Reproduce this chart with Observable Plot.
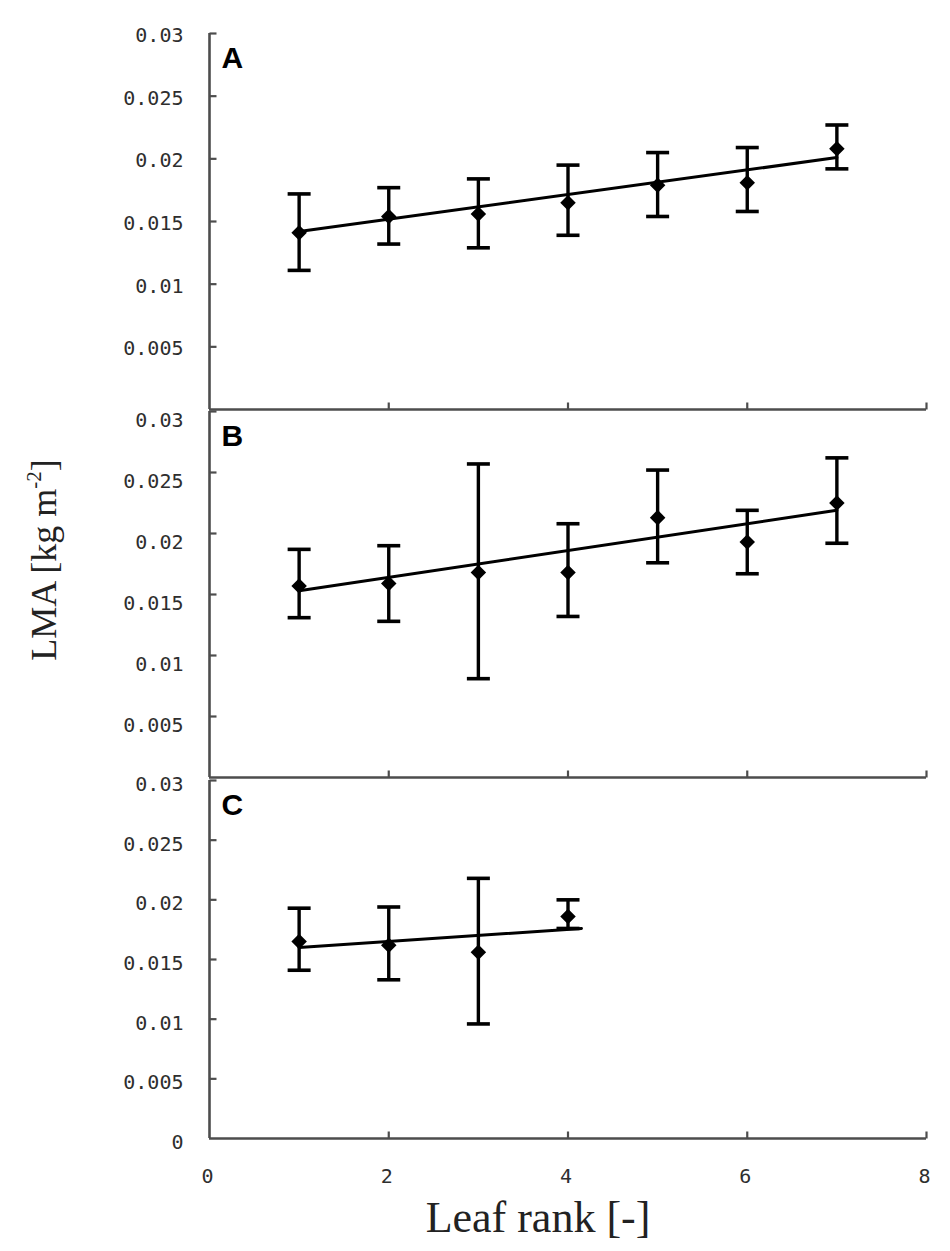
<!DOCTYPE html>
<html>
<head>
<meta charset="utf-8">
<script src="https://cdn.jsdelivr.net/npm/d3@7"></script>
<script src="https://cdn.jsdelivr.net/npm/@observablehq/plot@0.6"></script>
<style>
  body { margin: 0; background: #fff; }
  #fig { position: relative; width: 950px; height: 1251px; background: #fff; overflow: hidden; }
  #fig svg { position: absolute; left: 0; }
  .ytitle { position: absolute; left: 44px; top: 560px; transform: translate(-50%, -50%) rotate(-90deg);
            font-family: "Liberation Serif", "DejaVu Serif", serif; font-size: 36px; color: #222; white-space: nowrap; }
  .ytitle sup { font-size: 21px; position: relative; top: -2px; }
  .xtitle { position: absolute; left: 538px; top: 1217px; transform: translate(-50%, -50%);
            font-family: "Liberation Serif", "DejaVu Serif", serif; font-size: 44px; color: #222; white-space: nowrap; }
</style>
</head>
<body>
<div id="fig"></div>
<script>
// ---- data ----
const leafRank = [1, 2, 3, 4, 5, 6, 7];

const lmaA  = [0.0141, 0.0154, 0.0156, 0.0165, 0.0179, 0.0181, 0.0208];
const highA = [0.0172, 0.0177, 0.0184, 0.0195, 0.0205, 0.0209, 0.0227];
const lowA  = [0.0111, 0.0132, 0.0129, 0.0139, 0.0154, 0.0158, 0.0192];
const trendRankA = [1, 7];
const trendLmaA  = [0.0142, 0.0201];

const lmaB  = [0.0157, 0.0159, 0.0168, 0.0168, 0.0213, 0.0193, 0.0225];
const highB = [0.0187, 0.0190, 0.0257, 0.0208, 0.0252, 0.0219, 0.0262];
const lowB  = [0.0131, 0.0128, 0.0081, 0.0132, 0.0176, 0.0167, 0.0192];
const trendRankB = [1, 7];
const trendLmaB  = [0.0153, 0.0219];

const lmaC  = [0.0165, 0.0162, 0.0156, 0.0186];
const highC = [0.0193, 0.0194, 0.0218, 0.0200];
const lowC  = [0.0141, 0.0133, 0.0096, 0.0176];
const trendRankC = [1, 4.15];
const trendLmaC  = [0.0160, 0.0176];

const panelLetters = ["A", "B", "C"];
const yTickValues = [0, 0.005, 0.01, 0.015, 0.02, 0.025, 0.03];
const yTickLabels = ["0", "0.005", "0.01", "0.015", "0.02", "0.025", "0.03"];
const xTickValues = [0, 2, 4, 6, 8];
const xTickLabels = ["0", "2", "4", "6", "8"];

// ---- helpers ----
const AXIS = "#4d4d4d";
const tickRight = { draw(ctx) { ctx.moveTo(0, 0); ctx.lineTo(7, 0); } };
const tickUp = { draw(ctx) { ctx.moveTo(0, 0); ctx.lineTo(0, -7); } };
const cap = { draw(ctx) { ctx.moveTo(-11.5, 0); ctx.lineTo(11.5, 0); } };
const yLabel = d => yTickLabels[yTickValues.indexOf(d)];
const xLabel = d => xTickLabels[xTickValues.indexOf(d)];

function rowsOf(lma, high, low) {
  return lma.map((v, i) => ({ rank: leafRank[i], lma: v, high: high[i], low: low[i] }));
}
function trendOf(xs, ys) { return xs.map((x, i) => ({ rank: x, lma: ys[i] })); }

const panels = [
  { letter: panelLetters[0], rows: rowsOf(lmaA, highA, lowA), trend: trendOf(trendRankA, trendLmaA),
    top: 0, height: 420, mt: 33, mb: 11, labelTicks: yTickValues.slice(1), labelDy: 2, showX: false },
  { letter: panelLetters[1], rows: rowsOf(lmaB, highB, lowB), trend: trendOf(trendRankB, trendLmaB),
    top: 400, height: 390, mt: 11, mb: 13, labelTicks: yTickValues.slice(1), labelDy: 9, showX: false },
  { letter: panelLetters[2], rows: rowsOf(lmaC, highC, lowC), trend: trendOf(trendRankC, trendLmaC),
    top: 770, height: 481, mt: 10, mb: 113, labelTicks: yTickValues, labelDy: 4, showX: true }
];

const fig = document.getElementById("fig");

for (const p of panels) {
  const marks = [
    Plot.ruleX([0], { stroke: AXIS, strokeWidth: 2.6 }),
    Plot.ruleY([0], { stroke: AXIS, strokeWidth: 2.6 }),
    Plot.dot(yTickValues.slice(1), { x: 0, y: d => d, symbol: tickRight, fill: "none", stroke: AXIS, strokeWidth: 2.2 }),
    Plot.dot(xTickValues.slice(1), { x: d => d, y: 0, symbol: tickUp, fill: "none", stroke: AXIS, strokeWidth: 2.2 }),
    Plot.axisY({ ticks: p.labelTicks, tickSize: 0, tickPadding: 26, tickFormat: yLabel, dy: p.labelDy, label: null }),
    Plot.line(p.trend, { x: "rank", y: "lma", stroke: "#000", strokeWidth: 3 }),
    Plot.ruleX(p.rows, { x: "rank", y1: "low", y2: "high", stroke: "#000", strokeWidth: 3.4 }),
    Plot.dot(p.rows, { x: "rank", y: "high", symbol: cap, fill: "none", stroke: "#000", strokeWidth: 3.6 }),
    Plot.dot(p.rows, { x: "rank", y: "low", symbol: cap, fill: "none", stroke: "#000", strokeWidth: 3.6 }),
    Plot.dot(p.rows, { x: "rank", y: "lma", symbol: "diamond2", r: 7, fill: "#000", stroke: "none" }),
    Plot.text([p.letter], { frameAnchor: "top-left", dx: 12, dy: 13, lineAnchor: "top", text: d => d,
      fontSize: 30, fontWeight: "bold", fontFamily: "Liberation Sans, Arial, sans-serif", fill: "#000" })
  ];
  if (p.showX) {
    marks.push(Plot.axisX({ ticks: xTickValues, tickSize: 0, tickPadding: 30, tickFormat: xLabel, dx: -2, label: null }));
  }
  const svg = Plot.plot({
    width: 950,
    height: p.height,
    marginLeft: 209,
    marginRight: 24,
    marginTop: p.mt,
    marginBottom: p.mb,
    style: { background: "transparent", overflow: "visible", color: "#2e2e2e",
             fontFamily: "'DejaVu Sans Mono', monospace", fontSize: "20px" },
    x: { domain: [0, 8], axis: p.showX ? undefined : null },
    y: { domain: [0, 0.03] },
    marks
  });
  svg.style.top = p.top + "px";
  fig.appendChild(svg);
}

const yt = document.createElement("div");
yt.className = "ytitle";
yt.innerHTML = "LMA [kg m<sup>-2</sup>]";
fig.appendChild(yt);

const xt = document.createElement("div");
xt.className = "xtitle";
xt.textContent = "Leaf rank [-]";
fig.appendChild(xt);
</script>
</body>
</html>
